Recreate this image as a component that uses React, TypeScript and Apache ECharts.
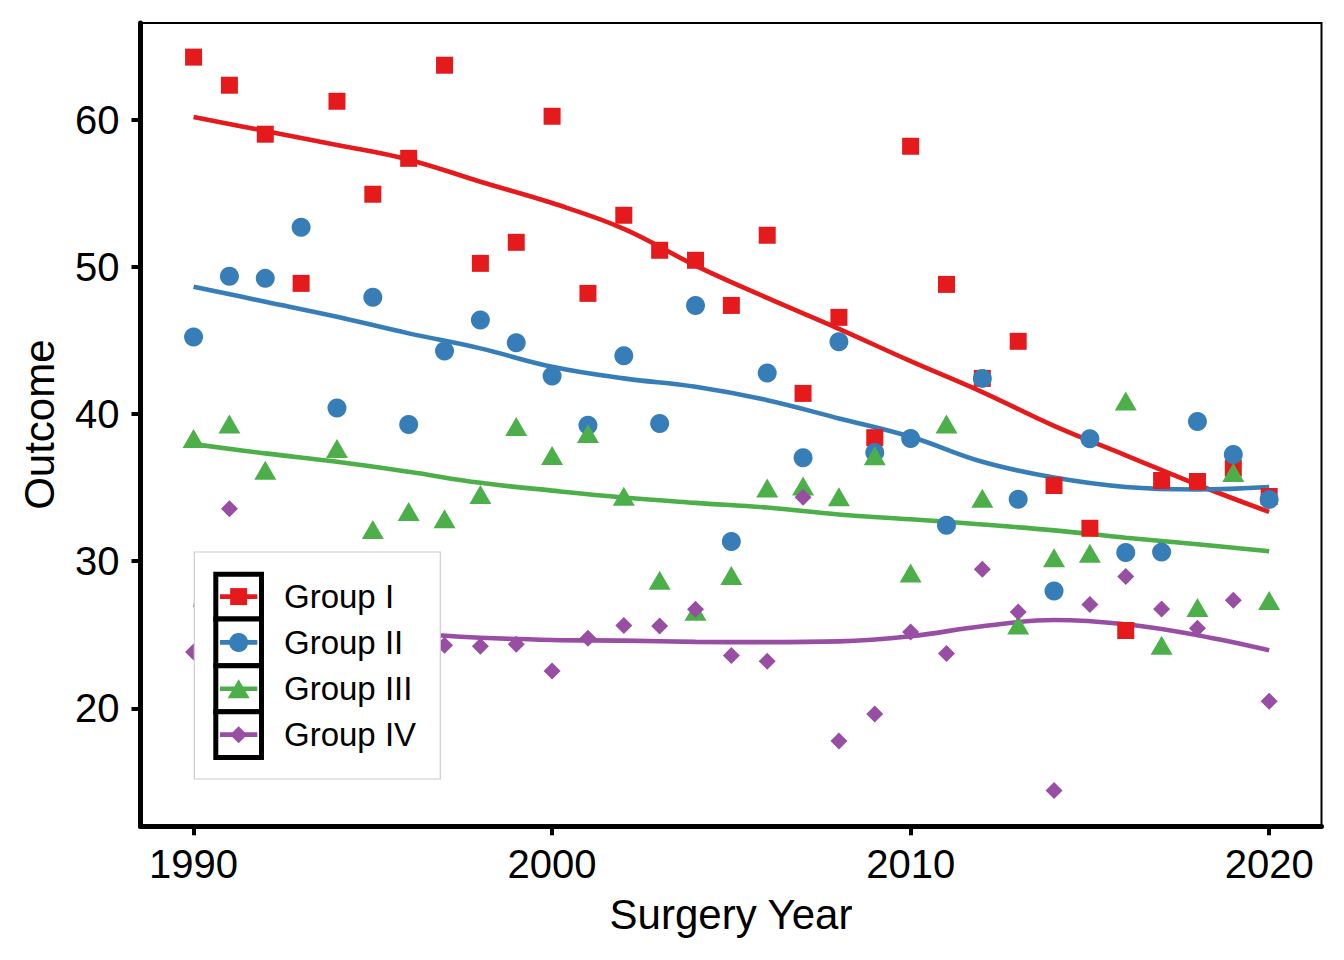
import React, { useEffect, useRef } from "react";
import * as echarts from "echarts";

const years = [
  1990, 1991, 1992, 1993, 1994, 1995, 1996, 1997, 1998, 1999,
  2000, 2001, 2002, 2003, 2004, 2005, 2006, 2007, 2008, 2009,
  2010, 2011, 2012, 2013, 2014, 2015, 2016, 2017, 2018, 2019, 2020,
];

const groupNames = ["Group I", "Group II", "Group III", "Group IV"];

const groupI = [
  64.27, 62.36, 59.03, 48.89, 61.27, 54.95, 57.39, 63.72, 50.25, 51.68,
  60.25, 48.21, 53.52, 51.14, 50.46, 47.39, 52.16, 41.41, 46.58, 38.4,
  58.21, 48.82, 42.43, 44.95, 35.15, 32.24, 25.29, 35.49, 35.42, 36.33, 34.4,
];
const groupII = [
  45.24, 49.37, 49.23, 52.7, 40.41, 47.94, 39.3, 44.29, 46.4, 44.85,
  42.59, 39.25, 43.97, 39.37, 47.39, 31.34, 42.79, 37.03, 44.92, 37.39,
  38.35, 32.45, 42.43, 34.22, 27.98, 38.32, 30.59, 30.62, 39.5, 37.26, 34.2,
];
const groupIII = [
  38.35, 39.33, 36.19, 28.0, 37.67, 32.16, 33.38, 32.88, 34.54, 39.16,
  37.19, 38.69, 34.41, 28.71, 26.6, 29.03, 34.97, 35.12, 34.38, 37.17,
  29.2, 39.33, 34.29, 25.67, 30.24, 30.54, 40.9, 24.29, 26.85, 36.03, 27.33,
];
const groupIV = [
  23.83, 33.56, 26.5, 22.0, 27.8, 24.6, 21.3, 24.29, 24.22, 24.35,
  22.54, 24.76, 25.63, 25.6, 26.73, 23.59, 23.2, 34.35, 17.78, 19.61,
  25.19, 23.72, 29.46, 26.55, 14.42, 27.05, 28.96, 26.76, 25.44, 27.35, 20.48,
];

// smoothed trend
const trendYears = [
  1990, 1992, 1994, 1996, 1998, 2000, 2002, 2004,
  2006, 2008, 2010, 2012, 2014, 2016, 2018, 2020,
];
const trendI = [60.2, 59.25, 58.3, 57.3, 55.8, 54.35, 52.6, 50.1, 47.9, 45.8, 43.6, 41.5, 39.2, 37.2, 35.2, 33.35];
const trendII = [48.66, 47.64, 46.62, 45.49, 44.47, 43.22, 42.43, 41.86, 40.95, 39.71, 38.46, 36.76, 35.69, 35.05, 34.88, 35.05];
const trendIII = [37.96, 37.33, 36.76, 36.08, 35.33, 34.8, 34.33, 33.97, 33.65, 33.18, 32.85, 32.5, 32.1, 31.6, 31.15, 30.68];
const trendIV = [27.05, 26.2, 25.6, 25.1, 24.8, 24.65, 24.6, 24.52, 24.5, 24.55, 24.9, 25.58, 26.0, 25.71, 24.97, 23.95];

const xTicks = [1990, 2000, 2010, 2020];
const yTicks = [20, 30, 40, 50, 60];

const COLORS = ["#E41A1C", "#377EB8", "#4DAF4A", "#984EA3"];
const FONT = '"Liberation Sans", Arial, Helvetica, sans-serif';

export default function App() {
  const ref = useRef<HTMLDivElement>(null);

  useEffect(() => {
    if (!ref.current) return;
    const chart = echarts.init(ref.current, null, { renderer: "svg", width: 1344, height: 960 });

    const pointSets = [groupI, groupII, groupIII, groupIV];
    const trendSets = [trendI, trendII, trendIII, trendIV];
    const symbols: any[] = ["rect", "circle", "triangle", "diamond"];
    const symbolSizes: any[] = [17, 19, [22, 19], 17];

    const lineSeries = trendSets.map((t, i) => ({
      type: "line",
      name: groupNames[i] + " trend",
      data: trendYears.map((y, k) => [y, t[k]]),
      smooth: 0.4,
      showSymbol: false,
      symbol: "none",
      lineStyle: { color: COLORS[i], width: 4.6 },
      z: 2,
      silent: true,
    }));

    const scatterSeries = pointSets.map((p, i) => ({
      type: "scatter",
      name: groupNames[i],
      data: years.map((y, k) => [y, p[k]]),
      symbol: symbols[i],
      symbolSize: symbolSizes[i],
      itemStyle: { color: COLORS[i], opacity: 1 },
      z: 3 + i,
    }));

    // legend (drawn as graphic, above the series)
    const LZ = 100;
    const keyX = 215.8;
    const keyW = 45.7;
    const keyTops = [574.2, 619, 665.8, 711.8, 757.5];
    const legendChildren: any[] = [
      {
        type: "rect",
        z: LZ,
        shape: { x: 194.3, y: 552, width: 246, height: 227 },
        style: { fill: "#fff", stroke: "#cccccc", lineWidth: 1.2 },
      },
    ];
    for (let i = 0; i < 4; i++) {
      const top = keyTops[i];
      const h = keyTops[i + 1] - top;
      const cy = top + h / 2;
      const cx = keyX + keyW / 2;
      legendChildren.push({
        type: "rect",
        z: LZ + 1,
        shape: { x: keyX, y: top, width: keyW, height: h },
        style: { fill: "#fff", stroke: "#000", lineWidth: 5 },
      });
      legendChildren.push({
        type: "line",
        z: LZ + 2,
        shape: { x1: 220, y1: cy, x2: 257.3, y2: cy },
        style: { stroke: COLORS[i], lineWidth: 4.6 },
      });
      if (i === 0) {
        legendChildren.push({
          type: "rect",
          z: LZ + 3,
          shape: { x: cx - 8.5, y: cy - 8.5, width: 17, height: 17 },
          style: { fill: COLORS[i] },
        });
      } else if (i === 1) {
        legendChildren.push({
          type: "circle",
          z: LZ + 3,
          shape: { cx, cy, r: 9.5 },
          style: { fill: COLORS[i] },
        });
      } else if (i === 2) {
        legendChildren.push({
          type: "polygon",
          z: LZ + 3,
          shape: { points: [[cx, cy - 9.5], [cx + 11, cy + 9.5], [cx - 11, cy + 9.5]] },
          style: { fill: COLORS[i] },
        });
      } else {
        legendChildren.push({
          type: "polygon",
          z: LZ + 3,
          shape: { points: [[cx, cy - 8.5], [cx + 8.5, cy], [cx, cy + 8.5], [cx - 8.5, cy]] },
          style: { fill: COLORS[i] },
        });
      }
      legendChildren.push({
        type: "text",
        z: LZ + 3,
        x: 284,
        y: cy,
        style: {
          text: groupNames[i],
          fontSize: 33,
          fontFamily: FONT,
          fill: "#000",
          align: "left",
          verticalAlign: "middle",
        },
      });
    }

    const option: any = {
      animation: false,
      backgroundColor: "#fff",
      textStyle: { fontFamily: FONT },
      grid: {
        left: 140.5,
        right: 22.5,
        top: 23,
        bottom: 133.7,
        containLabel: false,
        outerBoundsMode: "none",
        show: true,
        borderColor: "#000",
        borderWidth: 2,
        backgroundColor: "#fff",
      },
      xAxis: {
        type: "value",
        min: 1988.52,
        max: 2021.46,
        splitLine: { show: false },
        axisLine: { show: true, onZero: false, lineStyle: { color: "#000", width: 5 } },
        axisTick: { show: true, length: 9, lineStyle: { color: "#000", width: 4 }, customValues: xTicks },
        axisLabel: {
          customValues: xTicks,
          fontSize: 40,
          fontFamily: FONT,
          color: "#000",
          margin: 18,
          formatter: (v: number) => String(v),
        },
        name: "Surgery Year",
        nameLocation: "middle",
        nameGap: 67,
        nameTextStyle: { fontSize: 42, fontFamily: FONT, color: "#000" },
      },
      yAxis: {
        type: "value",
        min: 11.98,
        max: 66.59,
        splitLine: { show: false },
        axisLine: { show: true, onZero: false, lineStyle: { color: "#000", width: 5 } },
        axisTick: { show: true, length: 9, lineStyle: { color: "#000", width: 4 }, customValues: yTicks },
        axisLabel: {
          customValues: yTicks,
          fontSize: 40,
          fontFamily: FONT,
          color: "#000",
          margin: 21,
        },
        name: "Outcome",
        nameLocation: "middle",
        nameGap: 80,
        nameRotate: 90,
        nameTextStyle: { fontSize: 42, fontFamily: FONT, color: "#000" },
      },
      series: [...lineSeries, ...scatterSeries],
      graphic: [{ type: "group", z: LZ, children: legendChildren }],
    };

    chart.setOption(option);
    return () => chart.dispose();
  }, []);

  return (
    <div
      ref={ref}
      style={{ position: "fixed", left: 0, top: 0, width: 1344, height: 960, background: "#fff" }}
    />
  );
}
